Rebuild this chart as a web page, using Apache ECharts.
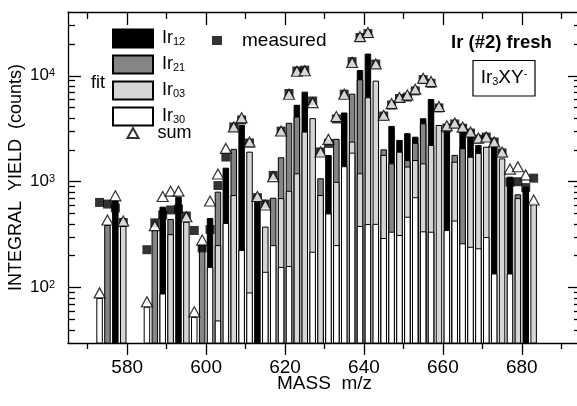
<!DOCTYPE html>
<html><head><meta charset="utf-8">
<script src="https://cdn.jsdelivr.net/npm/echarts@6/dist/echarts.min.js"></script>
<style>html,body{margin:0;padding:0;background:#fff}#c{width:577px;height:406px}</style>
</head><body><div id="c"></div>
<script>
// masses (odd m/z) and fitted components (counts)
const masses = [573,575,577,579,585,587,589,591,593,595,597,599,601,603,605,607,609,611,613,615,617,619,621,623,625,627,629,631,633,635,637,639,641,643,645,647,649,651,653,655,657,659,661,663,665,667,669,671,673,675,677,679,681,683];
const ir12 = [0,0,672,0,0,0,581,0,720,0,0,0,454,0,1355,0,3440,0,647,0,0,0,0,5320,7080,0,0,1786,0,4500,0,11340,16200,0,0,3360,2480,2870,2660,3970,6040,0,2970,0,2970,2880,2220,0,2140,0,1115,0,897,0];
const ir21 = [0,390,0,0,0,350,0,445,0,0,0,252,0,805,0,2040,0,0,0,0,706,1700,3600,4120,0,0,1077,0,2540,0,6780,9270,0,0,2020,1490,0,1600,2330,3560,0,0,0,1790,2070,0,0,0,0,0,0,760,0,0];
const ir03 = [0,0,0,382,0,0,0,320,0,419,0,0,0,252,0,748,0,1920,0,377,0,700,820,1200,2970,3980,748,0,998,0,2390,1200,6270,9000,1790,0,1920,1390,1600,1490,2220,3430,0,1545,0,1720,1870,2140,0,1660,0,700,0,625];
const ir30 = [80,0,0,0,66,0,88,0,0,0,53,0,157,49,408,0,227,90,0,141,252,157,160,0,0,218,0,502,252,1400,1880,382,398,400,294,337,314,467,713,340,337,0,350,430,262,243,235,300,136,0,136,0,0,0];
const measured = [637,615,565,412,228,409,485,541,552,474,346,237,354,920,1710,3290,3830,2320,707,615,1146,3000,6800,11100,11300,5780,1910,2300,3910,6700,13600,23000,25000,12900,4170,5300,6100,6300,7200,9200,8500,4970,3210,3510,3200,2880,2520,2640,2370,1870,990,1000,880,1080];
const sum = [80,390,660,382,66,345,650,730,730,419,53,252,590,1060,1850,2950,3600,2130,650,540,1000,2700,6000,9900,10000,5000,1710,2250,3700,6000,12000,21000,23000,11600,3800,4900,5600,5900,6700,8500,7900,4600,3030,3210,2940,2640,2320,2370,2130,1710,1180,1240,1040,603];

const xMajor = [580,600,620,640,660,680];
const xMinor = [570,590,610,630,650,670,690];
const yMajor = [100,1000,10000];
const yMinor = [40,50,60,70,80,90,200,300,400,500,600,700,800,900,2000,3000,4000,5000,6000,7000,8000,9000,20000,30000];

const FONT = '"Liberation Sans", Arial, Helvetica, sans-serif';
const COL = {Ir12:'#000000', Ir21:'#858585', Ir03:'#d6d6d6', Ir30:'#ffffff'};

// overlapping bars: largest component drawn behind, smaller ones in front
const comps = masses.map((m,i)=>[
  {v:ir12[i],c:COL.Ir12},{v:ir21[i],c:COL.Ir21},{v:ir03[i],c:COL.Ir03},{v:ir30[i],c:COL.Ir30}
].filter(d=>d.v>0).sort((a,b)=>b.v-a.v));
const layerSeries = [0,1,2,3].map(k=>{
  const data=[];
  masses.forEach((m,i)=>{ const d=comps[i][k]; if(d) data.push({value:[m,d.v],itemStyle:{color:d.c}}); });
  return {type:'bar', name:'layer'+k, data, barWidth:6.5, barGap:'-100%', z:2+k*0.01,
    itemStyle:{borderColor:'#000',borderWidth:1}, silent:true};
});
const legendSeries = ['Ir12','Ir21','Ir03','Ir30'].map(n=>({type:'bar',name:n,data:[],barWidth:6.5,barGap:'-100%',
  itemStyle:{color:COL[n],borderColor:'#000',borderWidth:1}}));

const axX = (pos, ticks, len, inside, extra)=>Object.assign({type:'value',min:565,max:695,position:pos,
  axisLine:{show:false,onZero:false,lineStyle:{color:'#000',width:1.3}},
  axisTick:{show:true,inside,length:len,customValues:ticks,lineStyle:{color:'#000',width:1.3}},
  axisLabel:{show:false},splitLine:{show:false}}, extra||{});
const axY = (pos, ticks, len, extra)=>Object.assign({type:'log',logBase:10,min:30,max:40000,position:pos,
  axisLine:{show:false,onZero:false,lineStyle:{color:'#000',width:1.3}},
  axisTick:{show:true,inside:true,length:len,customValues:ticks,lineStyle:{color:'#000',width:1.3}},
  axisLabel:{show:false},splitLine:{show:false},minorTick:{show:false}}, extra||{});

const option = {
  animation:false,
  backgroundColor:'#fff',
  grid:{left:68,top:12,width:513,height:331,containLabel:false,outerBoundsMode:'none'},
  xAxis:[
    axX('bottom',xMajor,12,false,{
      axisLine:{show:true,onZero:false,lineStyle:{color:'#000',width:1.3}},
      axisLabel:{show:true,customValues:xMajor,fontSize:19,color:'#000',fontFamily:FONT,margin:15},
      name:'MASS  m/z',nameLocation:'middle',nameGap:31,nameMoveOverlap:false,
      nameTextStyle:{fontSize:19,color:'#000',fontFamily:FONT}}),
    axX('bottom',xMinor,6,false),
    axX('top',xMajor,13,true,{axisLine:{show:true,onZero:false,lineStyle:{color:'#000',width:1.3}}}),
    axX('top',xMinor,7,true)
  ],
  yAxis:[
    axY('left',yMajor,13,{
      axisLine:{show:true,onZero:false,lineStyle:{color:'#000',width:1.3}},
      axisLabel:{show:true,customValues:yMajor,margin:13,
        formatter:v=>'{b|10}{s|'+Math.round(Math.log10(v))+'}',
        rich:{b:{fontSize:17,lineHeight:17,verticalAlign:'bottom',fontFamily:FONT,color:'#000'},
              s:{fontSize:11,lineHeight:2,verticalAlign:'top',fontFamily:FONT,color:'#000'}}},
      name:'INTEGRAL  YIELD  (counts)',nameLocation:'middle',nameRotate:90,nameGap:43,nameMoveOverlap:false,
      nameTextStyle:{fontSize:18,color:'#000',fontFamily:FONT}}),
    axY('left',yMinor,7),
    axY('right',yMajor,13,{axisLine:{show:true,onZero:false,lineStyle:{color:'#000',width:1.3}}}),
    axY('right',yMinor,7)
  ],
  legend:[
    {data:['Ir12','Ir21','Ir03','Ir30'],orient:'vertical',left:112,top:28.5,padding:0,itemWidth:40,itemHeight:18,itemGap:6,
     icon:'rect',selectedMode:false,
     formatter:n=>'{a|Ir}{b|'+n.slice(2)+'}',
     textStyle:{rich:{a:{fontSize:18,lineHeight:18,verticalAlign:'top',fontFamily:FONT,color:'#000',padding:[0,0,0,4]},
                      b:{fontSize:11,lineHeight:2,verticalAlign:'bottom',fontFamily:FONT,color:'#000'}}}},
    {data:['measured'],left:212,top:31,padding:0,itemWidth:10,itemHeight:9,icon:'rect',selectedMode:false,
     textStyle:{fontSize:19,lineHeight:9,fontFamily:FONT,color:'#000',padding:[0,0,0,15]}},
    {data:['sum'],left:126.5,top:124,padding:0,itemWidth:11,itemHeight:10,icon:'triangle',selectedMode:false,
     textStyle:{fontSize:18,lineHeight:10,fontFamily:FONT,color:'#000',padding:[0,0,0,14]}}
  ],
  graphic:[
    {type:'text',x:91,y:83,style:{text:'fit',fontSize:18,fontFamily:FONT,fill:'#000',verticalAlign:'middle'}},
    {type:'text',x:451,y:43,style:{text:'Ir (#2) fresh',fontSize:18.5,fontWeight:'bold',fontFamily:FONT,fill:'#000',verticalAlign:'middle'}},
    {type:'rect',shape:{x:473,y:60.5,width:62,height:35.5},style:{fill:'none',stroke:'#000',lineWidth:1.2}},
    {type:'text',x:504,y:78,style:{text:'{a|Ir}{b|3}{a|XY}{c|-}',align:'center',verticalAlign:'middle',
      rich:{a:{fontSize:19,lineHeight:19,verticalAlign:'top',fontFamily:FONT,fill:'#000'},
            b:{fontSize:11,lineHeight:7,verticalAlign:'bottom',fontFamily:FONT,fill:'#000'},
            c:{fontSize:11,lineHeight:5,verticalAlign:'top',fontFamily:FONT,fill:'#000'}}}}
  ],
  series:[
    ...legendSeries,
    ...layerSeries,
    {type:'scatter',name:'measured',data:masses.map((m,i)=>[m,measured[i]]),symbol:'rect',symbolSize:[9,9],
     itemStyle:{color:'#000'},z:5,silent:true},
    {type:'scatter',name:'sum',data:masses.map((m,i)=>[m,sum[i]]),symbol:'triangle',symbolSize:[11,10],symbolOffset:[0,-5],
     itemStyle:{color:'#fff',borderColor:'#000',borderWidth:1.2},z:6,silent:true}
  ]
};
const chart = echarts.init(document.getElementById('c'),null,{renderer:'canvas'});
chart.setOption(option);
</script></body></html>
